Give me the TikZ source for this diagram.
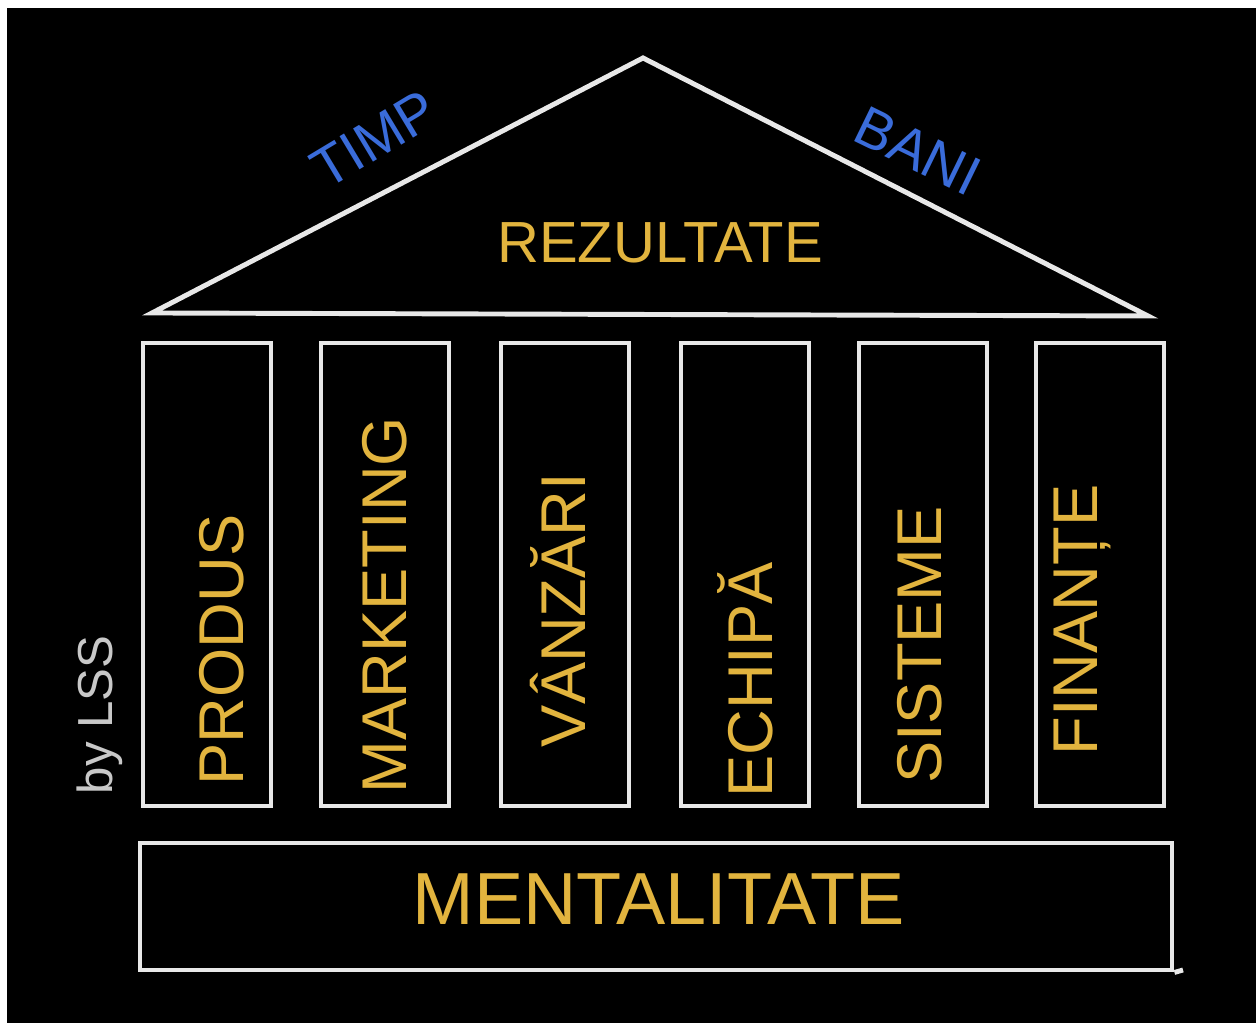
\documentclass[tikz,border=0pt]{standalone}
\usepackage{fontspec}
\setmainfont{Liberation Sans}
\usepackage{tikz}
\definecolor{chalk}{RGB}{232,232,232}
\definecolor{gold}{RGB}{226,180,62}
\definecolor{penblue}{RGB}{58,108,218}
\definecolor{pencil}{RGB}{200,200,200}
\tikzset{
  pillar/.style={draw=chalk, line width=1.4pt, minimum width=1.28cm, minimum height=4.63cm, inner sep=0pt},
  word/.style={text=gold, font=\fontsize{18}{21}\selectfont, inner sep=0pt},
  sideword/.style={text=penblue, font=\fontsize{16}{19}\selectfont, inner sep=0pt}
}
\begin{document}
\begin{tikzpicture}
\useasboundingbox (0,0) rectangle (12.56,10.23);
\fill[white] (0,0) rectangle (12.56,10.23);
\fill[black] (0.07,0) rectangle (12.56,10.15);
\coordinate (apex) at (6.43,9.65);
\coordinate (eaveL) at (1.52,7.10);
\coordinate (eaveR) at (11.48,7.07);
\draw[chalk, line width=1.4pt, line cap=round] (eaveL) -- (apex) -- (eaveR) -- cycle;
\node at (6.60,7.80) [word, font=\fontsize{16.5}{20}\selectfont] (rezultate) {REZULTATE};
\node at (3.74,8.84) [sideword, rotate=31] (timp) {TIMP};
\node at (9.18,8.72) [sideword, rotate=-26] (bani) {BANI};
\node at (2.07,4.485) [pillar] (produs) {};
\node at (3.85,4.485) [pillar] (marketing) {};
\node at (5.65,4.485) [pillar] (vanzari) {};
\node at (7.45,4.485) [pillar] (echipa) {};
\node at (9.23,4.485) [pillar] (sisteme) {};
\node at (11.00,4.485) [pillar] (finante) {};
\node at (2.22,3.73) [word, rotate=90] {PRODUS};
\node at (3.85,4.18) [word, rotate=90] {MARKETING};
\node at (5.58,4.13) [word, rotate=90] {VÂNZĂRI};
\node at (7.45,3.43) [word, rotate=90] {ECHIPĂ};
\node at (9.20,3.78) [word, rotate=90] {SISTEME};
\node at (10.82,4.03) [word, rotate=90] {FINANȚE};
\node at (1.00,3.08) [text=pencil, font=\fontsize{14}{17}\selectfont, rotate=90, inner sep=0pt] (sign) {by LSS};
\node at (6.56,1.165) [draw=chalk, line width=1.4pt, minimum width=10.32cm, minimum height=1.27cm, inner sep=0pt] (mentalitate) {};
\coordinate (sill) at (11.83,0.53);
\draw[chalk, line width=1.4pt] (mentalitate.south east) -- (sill);
\node at (6.59,1.24) [word, font=\fontsize{21}{25}\selectfont] {MENTALITATE};
\end{tikzpicture}
\end{document}
